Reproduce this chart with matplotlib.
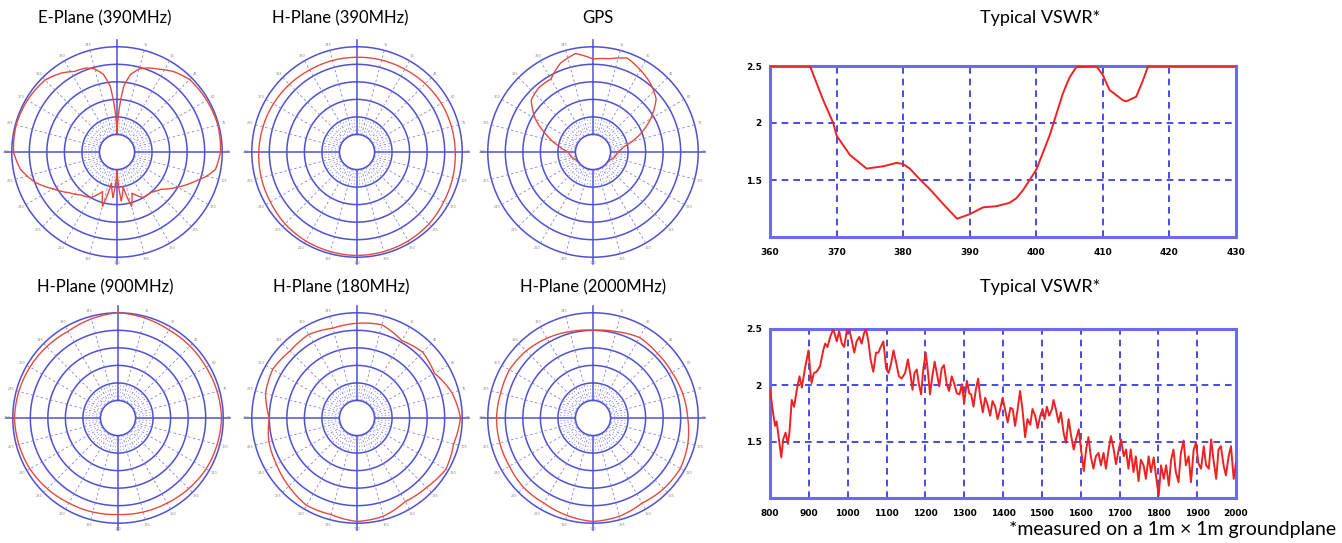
import matplotlib
matplotlib.use("Agg")
import matplotlib.pyplot as plt
import numpy as np

# polar patterns: angle (deg, clockwise from top) and level (dB)
e390_ang = [0, 3, 6, 10, 15, 20, 27, 35, 45, 60, 75, 90, 100, 105, 110, 120, 130, 140, 150,
            160, 165, 170, 175, 180, 185, 190, 195, 200, 210, 220, 230, 240, 250, 260, 270,
            285, 300, 315, 325, 332, 340, 345, 350, 354, 357, 360]
e390_db = [-50, -35, -22, -15, -11, -9, -7, -4, -1.5, -1, -0.5, -1, -3, -7, -12, -20, -27, -30, -30,
           -35, -28, -40, -32, -50, -34, -42, -28, -36, -30, -28, -24, -18, -10, -4, -1,
           -0.5, -1, -2, -5, -8, -9, -11, -15, -22, -35, -50]

h390_ang = [0, 30, 45, 60, 90, 120, 135, 150, 180, 210, 225, 240, 270, 300, 315, 330, 360]
h390_db = [-6, -5.5, -5, -4.5, -4, -3, -2, -1.5, -1, -1.5, -2, -3, -4, -5, -5.5, -6, -6]

gps_ang = [0, 10, 20, 30, 40, 50, 60, 70, 80, 90, 100, 120, 180, 240, 260, 270, 280, 290,
           300, 310, 320, 330, 340, 350, 360]
gps_db = [-7, -6, -3, -6, -9, -13, -22, -32, -42, -46, -47, -50, -50, -50, -47, -46, -40, -32,
          -22, -14, -12, -12, -6, -3, -7]

h900_ang = [0, 30, 60, 90, 120, 150, 180, 210, 240, 270, 300, 330, 360]
h900_db = [0, -2, -2, -1, -2, -4, -5, -4, -2, -1, -2, -3, 0]

h180_ang = [0, 15, 30, 45, 60, 75, 90, 105, 120, 135, 150, 165, 180, 195, 210, 225, 240,
            255, 270, 285, 300, 315, 330, 345, 360]
h180_db = [-6, -5, -9, -7, -9, -4, -1, -3, -1.5, -4, -5, -2, -1, -3, -2.5, -5, -7, -8, -10,
           -6, -4.5, -6, -5, -7, -6]

h2000_ang = [0, 15, 30, 45, 60, 75, 90, 105, 120, 135, 150, 165, 180, 195, 210, 225, 240,
             255, 270, 285, 300, 315, 330, 345, 360]
h2000_db = [-10, -9, -7, -8, -8, -7, -6, -4, -2.5, -3, -4, -2, -1, -2.5, -4, -4, -5, -5,
            -5, -5.5, -5, -6, -7.5, -9, -10]

polar_titles = ["E-Plane (390MHz)", "H-Plane (390MHz)", "GPS",
                "H-Plane (900MHz)", "H-Plane (180MHz)", "H-Plane (2000MHz)"]

# VSWR, 360-430 MHz (clipped at 2.5)
f_low = [360, 366, 368, 369.5, 370, 372, 374.5, 377, 379, 380, 381, 382.6, 384, 386, 388.1,
         390, 392, 394, 396, 397, 398, 400, 402, 404, 405, 406, 409, 410, 411, 413, 413.5,
         415, 416, 416.8, 430]
vswr_low = [2.5, 2.5, 2.2, 2.0, 1.89, 1.72, 1.60, 1.62, 1.65, 1.64, 1.60, 1.5, 1.42, 1.29, 1.16,
            1.2, 1.26, 1.27, 1.3, 1.34, 1.41, 1.59, 1.89, 2.26, 2.4, 2.49, 2.5, 2.42, 2.29, 2.2, 2.19,
            2.23, 2.37, 2.5, 2.5]

# VSWR, 800-2000 MHz
f_high = [800, 809, 813, 817, 824, 829, 834, 840, 846, 850, 856, 862, 869, 876, 882, 890, 899,
          903, 907, 913, 920, 929, 937, 942, 948, 955, 963, 972, 978, 985, 991, 998, 1004, 1011,
          1017, 1023, 1030, 1036, 1042, 1047, 1053, 1059, 1066, 1073, 1079, 1085, 1092, 1099,
          1105, 1111, 1118, 1125, 1132, 1139, 1148, 1155, 1161, 1167, 1172, 1178, 1183, 1189,
          1195, 1201, 1207, 1212, 1218, 1224, 1231, 1236, 1242, 1248, 1255, 1261, 1268, 1274,
          1281, 1288, 1294, 1300, 1307, 1313, 1318, 1324, 1330, 1336, 1341, 1348, 1354, 1360,
          1367, 1373, 1380, 1386, 1393, 1399, 1406, 1412, 1419, 1425, 1431, 1437, 1444, 1450,
          1457, 1463, 1470, 1476, 1483, 1489, 1496, 1502, 1507, 1513, 1519, 1526, 1530, 1536,
          1543, 1549, 1556, 1562, 1569, 1575, 1582, 1588, 1595, 1601, 1608, 1614, 1620, 1626,
          1633, 1639, 1646, 1652, 1659, 1665, 1672, 1678, 1685, 1691, 1698, 1704, 1711, 1717,
          1723, 1729, 1736, 1742, 1749, 1755, 1762, 1768, 1775, 1781, 1788, 1795, 1801, 1807,
          1814, 1820, 1827, 1833, 1839, 1845, 1852, 1858, 1865, 1871, 1878, 1884, 1891, 1897,
          1903, 1910, 1917, 1923, 1930, 1936, 1942, 1949, 1955, 1961, 1968, 1974, 1981, 1987,
          1994, 2000]
vswr_high = [1.96, 1.73, 1.64, 1.68, 1.49, 1.36, 1.52, 1.58, 1.48, 1.58, 1.87, 1.81, 1.96, 2.08,
             1.98, 2.15, 2.31, 2.15, 2.02, 2.11, 2.12, 2.17, 2.31, 2.37, 2.34, 2.43, 2.50, 2.39,
             2.48, 2.37, 2.34, 2.49, 2.50, 2.39, 2.29, 2.39, 2.43, 2.37, 2.46, 2.50, 2.40, 2.23,
             2.12, 2.29, 2.29, 2.34, 2.39, 2.15, 2.11, 2.18, 2.31, 2.20, 2.08, 2.06, 2.11, 2.23,
             2.11, 1.96, 2.11, 2.14, 2.02, 1.92, 2.15, 2.29, 2.11, 1.92, 2.08, 2.21, 2.08, 1.99,
             2.15, 2.18, 2.01, 1.95, 2.08, 2.02, 1.93, 1.92, 2.01, 1.84, 2.04, 1.93, 1.92, 1.81,
             1.96, 2.06, 1.90, 1.76, 1.89, 1.83, 1.73, 1.86, 1.81, 1.70, 1.79, 1.89, 1.77, 1.67,
             1.80, 1.79, 1.64, 1.77, 1.95, 1.79, 1.54, 1.70, 1.65, 1.79, 1.73, 1.62, 1.73, 1.79,
             1.70, 1.81, 1.73, 1.79, 1.87, 1.79, 1.67, 1.76, 1.58, 1.49, 1.70, 1.56, 1.43, 1.52,
             1.61, 1.43, 1.24, 1.43, 1.54, 1.37, 1.26, 1.37, 1.40, 1.29, 1.40, 1.26, 1.43, 1.55,
             1.43, 1.30, 1.43, 1.52, 1.37, 1.43, 1.26, 1.43, 1.23, 1.37, 1.15, 1.34, 1.29, 1.17,
             1.37, 1.23, 1.36, 1.17, 1.02, 1.29, 1.17, 1.29, 1.11, 1.34, 1.43, 1.23, 1.14, 1.40,
             1.51, 1.29, 1.37, 1.14, 1.43, 1.49, 1.31, 1.26, 1.46, 1.29, 1.26, 1.52, 1.34, 1.17,
             1.43, 1.46, 1.29, 1.20, 1.37, 1.46, 1.17, 1.31]

low_ticks = [360, 370, 380, 390, 400, 410, 420, 430]
high_ticks = [800, 900, 1000, 1100, 1200, 1300, 1400, 1500, 1600, 1700, 1800, 1900, 2000]
y_ticks = [1.5, 2, 2.5]
y_labels = ["1.5", "2", "2.5"]

RING = "#5050d4"
DASH = "#8080dc"
RED = "#e44a3c"
VBLUE = "#2a2ae6"
VSPINE = "#6a6af5"

W, H = 1342, 543
fig = plt.figure(figsize=(W / 100, H / 100), dpi=100)
fig.patch.set_facecolor("white")

centers = [(117, 152), (357, 152), (593, 152), (118, 418), (357, 418), (593, 418)]
patterns = [(e390_ang, e390_db), (h390_ang, h390_db), (gps_ang, gps_db),
            (h900_ang, h900_db), (h180_ang, h180_db), (h2000_ang, h2000_db)]
title_x = [105, 340, 598, 105, 341, 593]
title_y = [18, 18, 18, 287, 287, 287]

rad_px = 114  # axes half size in pixels
full = np.radians(np.linspace(0, 360, 361))
for (cx, cy), (ang, db), tx, ty, title in zip(centers, patterns, title_x, title_y, polar_titles):
    ax = fig.add_axes([(cx - rad_px) / W, (H - cy - rad_px) / H, 2 * rad_px / W, 2 * rad_px / H],
                      projection="polar")
    ax.set_theta_zero_location("N")
    ax.set_theta_direction(-1)
    ax.set_ylim(-50, 5)
    ax.set_rorigin(-60)
    ax.grid(False)
    ax.set_xticks([])
    ax.set_yticks([])
    ax.spines["polar"].set_visible(False)
    ax.spines["inner"].set_color(RING)
    ax.spines["inner"].set_linewidth(1.1)
    ax.patch.set_alpha(0)
    for r in [-40, -30, -20, -10, 0]:
        ax.plot(full, np.full_like(full, r), color=RING, lw=1.1)
    for a in range(0, 360, 15):
        if a % 90 == 0:
            ax.plot([np.radians(a)] * 2, [-50, 4], color=RING, lw=1.1)
        else:
            ax.plot([np.radians(a)] * 2, [-50, 0], color=DASH, lw=0.6, ls=(0, (3, 3)))
        ax.text(np.radians(a), 3.2, str(a), fontsize=2.5, color="#888888",
                ha="center", va="center")
    for a in range(0, 360, 5):
        if a % 15:
            ax.plot([np.radians(a)] * 2, [-50, -40], color=DASH, lw=0.5, ls=(0, (2, 3)))
    ln, = ax.plot(np.radians(ang), np.clip(db, -50, 0), color=RED, lw=1.0)
    ln.get_path()._interpolation_steps = 40
    fig.text(tx / W, 1 - ty / H, title, fontsize=12, family="Lato", ha="center", va="center")


def vswr_axes(rect, x, y, xticks):
    ax = fig.add_axes(rect)
    ax.plot(x, y, color="#ee2222", lw=1.4, zorder=3)
    ax.set_xlim(xticks[0], xticks[-1])
    ax.set_ylim(1.0, 2.5)
    ax.set_xticks(xticks)
    ax.set_xticklabels([str(t) for t in xticks], fontsize=6.5, fontweight="bold")
    ax.set_yticks(y_ticks)
    ax.set_yticklabels(y_labels, fontsize=6.5, fontweight="bold")
    ax.tick_params(length=0, pad=6)
    ax.tick_params(axis="x", pad=8)
    ax.grid(True, color=VBLUE, lw=1.2, ls=(0, (4, 3)))
    for s in ax.spines.values():
        s.set_color(VSPINE)
        s.set_linewidth(2.2)
    return ax


vswr_axes([770 / W, (H - 237) / H, 466 / W, 171 / H], f_low, vswr_low, low_ticks)
vswr_axes([770 / W, (H - 498) / H, 466 / W, 169 / H], f_high, vswr_high, high_ticks)

fig.text(1040 / W, 1 - 18 / H, "Typical VSWR*", fontsize=13, family="Lato", ha="center", va="center")
fig.text(1040 / W, 1 - 287 / H, "Typical VSWR*", fontsize=13, family="Lato", ha="center", va="center")
fig.text(1336 / W, 1 - 530 / H, "*measured on a 1m \u00d7 1m groundplane", fontsize=14,
         family="Lato", ha="right", va="center")

fig.savefig("out.png", dpi=100)
